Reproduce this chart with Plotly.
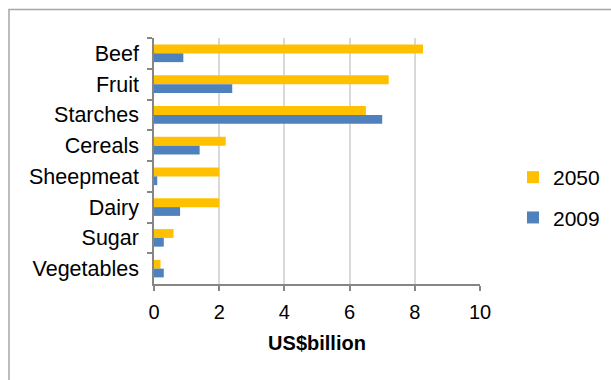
import plotly.graph_objects as go

# Commodity categories, listed top to bottom
categories = ["Beef", "Fruit", "Starches", "Cereals", "Sheepmeat", "Dairy", "Sugar", "Vegetables"]
# Values in US$ billion
values_2050 = [8.25, 7.2, 6.5, 2.2, 2.0, 2.0, 0.6, 0.2]
values_2009 = [0.9, 2.4, 7.0, 1.4, 0.1, 0.8, 0.3, 0.3]
x_ticks = [0, 2, 4, 6, 8, 10]

FONT = "Arial, Liberation Sans, sans-serif"
AXIS_GREY = "#868686"

fig = go.Figure()
fig.add_trace(go.Bar(
    y=categories, x=values_2050, name="2050", orientation="h", legendgroup="a",
    marker=dict(color="#FFC000", line=dict(width=0)),
))
fig.add_trace(go.Bar(
    y=categories, x=values_2009, name="2009", orientation="h", legendgroup="b",
    marker=dict(color="#4F81BD", line=dict(width=0)),
))

W, H = 611, 380
L, R, T, B = 154, 131, 38, 96
pw, ph = W - L - R, H - T - B

def px_to_paper_x(px):
    return (px - L) / pw

def px_to_paper_y(py):
    return 1 - (py - T) / ph

fig.update_layout(
    width=W, height=H,
    margin=dict(l=L, r=R, t=T, b=B, pad=0, autoexpand=False),
    paper_bgcolor="white", plot_bgcolor="white",
    barmode="group", bargap=0.43, bargroupgap=0,
    font=dict(family=FONT, color="black", size=21),
    showlegend=True,
    legend=dict(
        x=px_to_paper_x(513), y=px_to_paper_y(157), xanchor="left", yanchor="top",
        font=dict(size=21, family=FONT), tracegroupgap=10,
        bgcolor="rgba(0,0,0,0)", itemsizing="constant",
    ),
    xaxis=dict(
        range=[0, 10], tickvals=x_ticks, ticktext=[str(v) for v in x_ticks],
        showgrid=True, gridcolor="#D9D9D9", gridwidth=1.5,
        showline=True, linecolor=AXIS_GREY, linewidth=1.5,
        ticks="outside", ticklen=5, tickcolor=AXIS_GREY, tickwidth=1.5,
        tickfont=dict(size=20, family=FONT, color="black"),
        ticklabelstandoff=4,
        zeroline=False,
        title=dict(text="<b>US$billion</b>", font=dict(size=20, family=FONT, color="black"), standoff=14),
    ),
    yaxis=dict(
        autorange="reversed", type="category",
        showline=True, linecolor=AXIS_GREY, linewidth=1.5,
        ticks="outside", ticklen=5, tickcolor=AXIS_GREY, tickwidth=1.5,
        tickson="boundaries", showgrid=False,
        tickfont=dict(size=21.5, family=FONT, color="black"),
        ticklabelstandoff=9,
    ),
    shapes=[dict(
        type="rect", xref="paper", yref="paper",
        x0=px_to_paper_x(9), x1=px_to_paper_x(640),
        y0=px_to_paper_y(9.5), y1=px_to_paper_y(420),
        line=dict(color="#A6A6A6", width=1.5), fillcolor="rgba(0,0,0,0)", layer="below",
    )],
)

fig.write_html("out.html")
